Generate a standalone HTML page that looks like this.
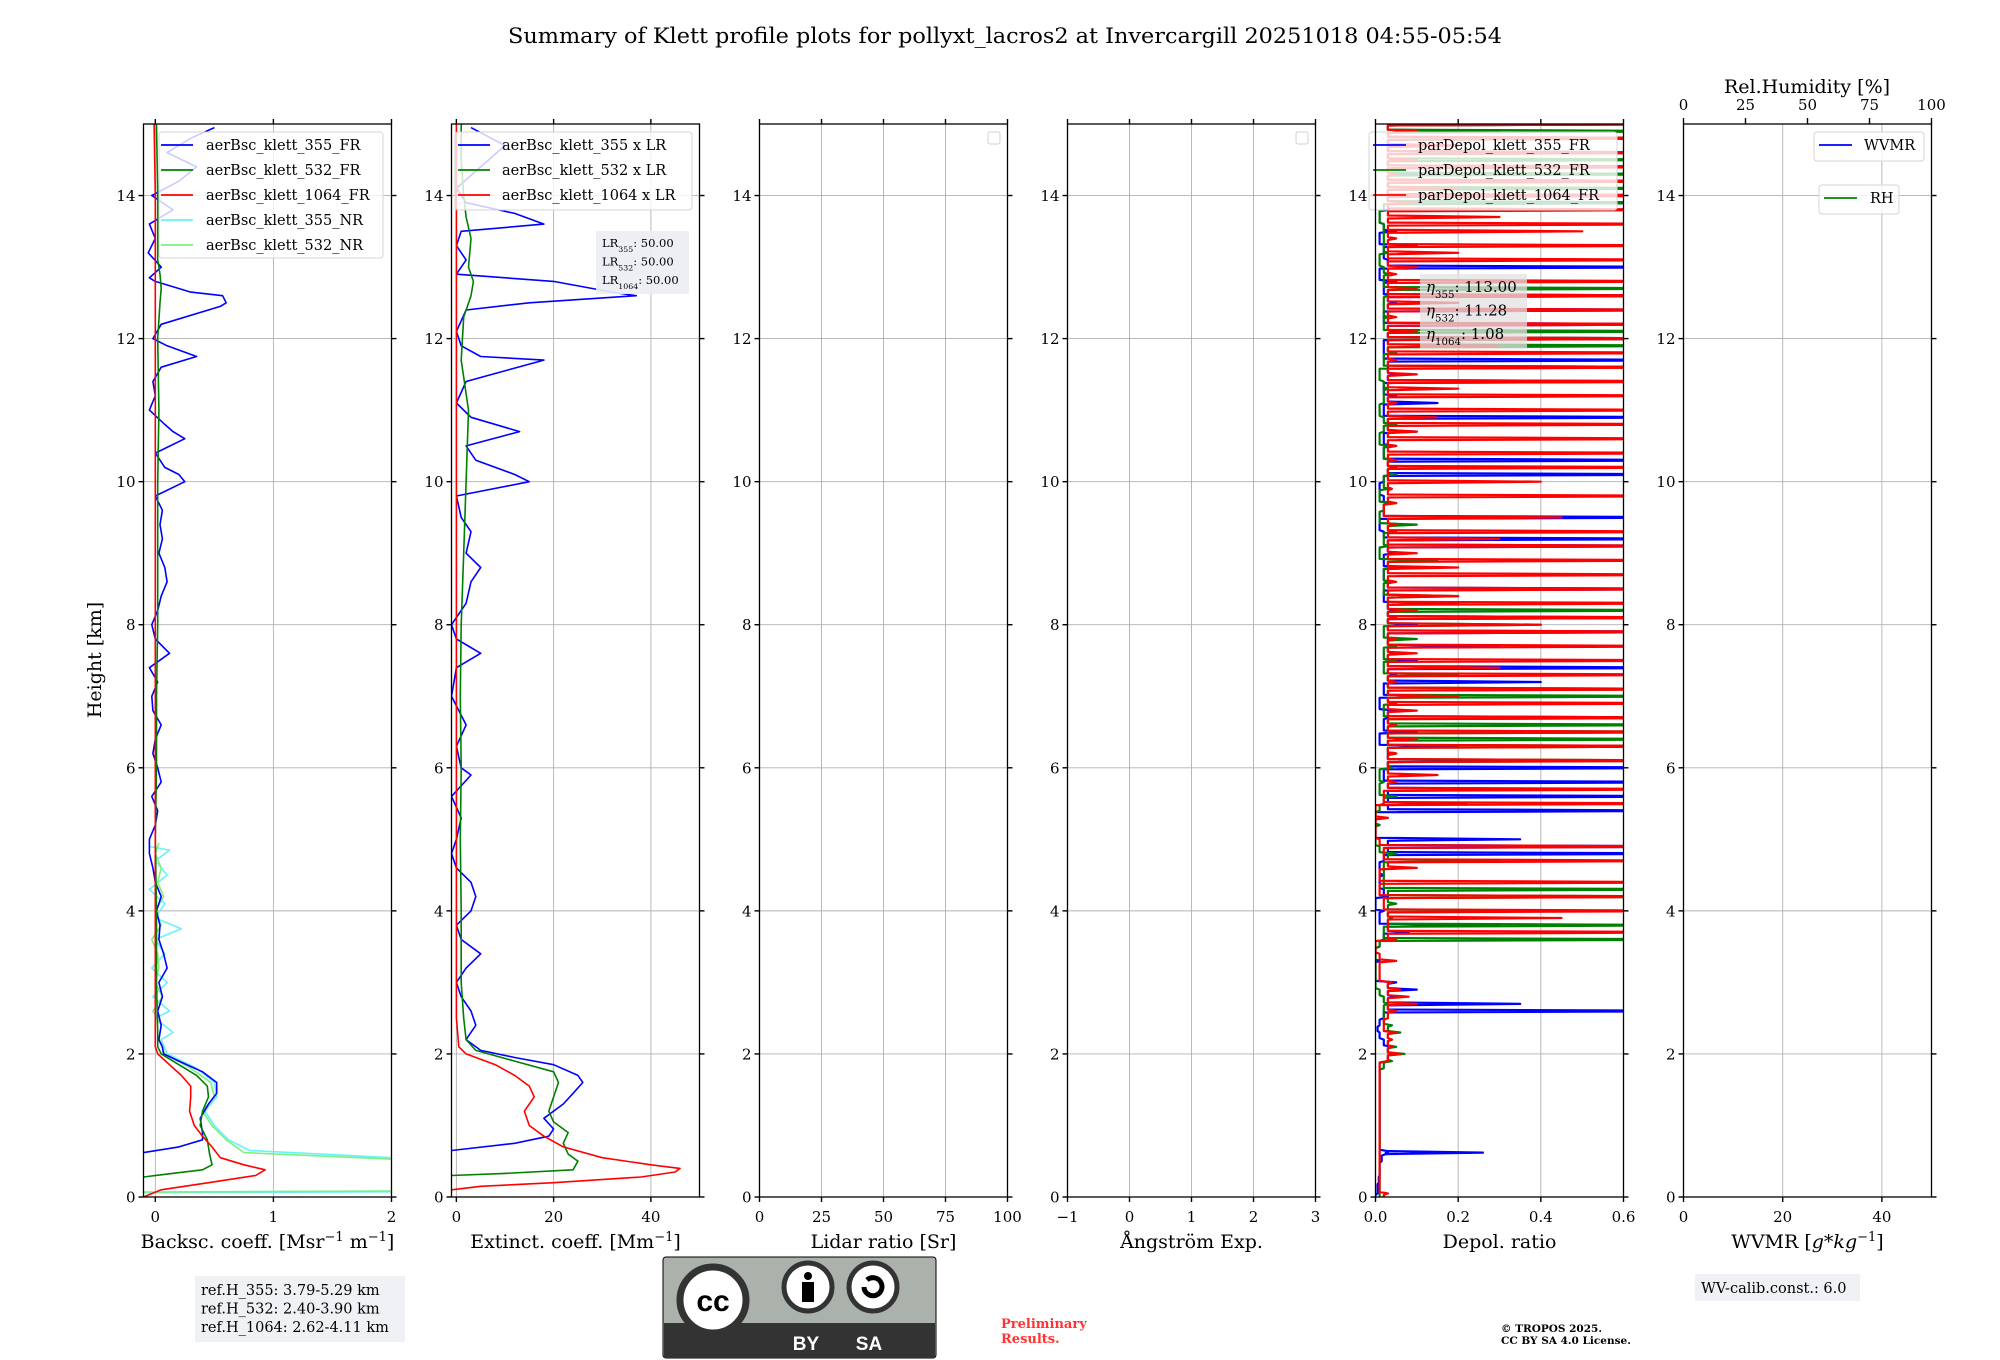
<!DOCTYPE html>
<html><head><meta charset="utf-8">
<style>
html,body{margin:0;padding:0;background:#fff;}
svg{display:block;font-family:"DejaVu Serif","Liberation Serif",serif;}
</style></head>
<body>
<div style="position:relative;width:2000px;height:1360px">
<svg id="fig" width="2000" height="1360" viewBox="0 0 2000 1360" xmlns="http://www.w3.org/2000/svg" style="position:absolute;left:0;top:0">
<rect width="2000" height="1360" fill="#fff"/>
<text x="1005" y="43" font-size="21" text-anchor="middle" textLength="994" lengthAdjust="spacingAndGlyphs">Summary of Klett profile plots for pollyxt_lacros2 at Invercargill 20251018 04:55-05:54</text>
<text transform="translate(101,660) rotate(-90)" font-size="19" text-anchor="middle">Height [km]</text>
<g id="panels"></g>
<g id="overlay"></g>
</svg>
<script>
// ---------- DATA ----------
const bsc355FR_h=[0.62,0.7,0.8,0.9,1.1,1.3,1.45,1.6,1.75,1.9,2.0,2.1,2.2,2.4,2.6,2.8,3.0,3.2,3.4,3.6,3.8,4.0,4.2,4.4,4.6,4.8,5.0,5.2,5.4,5.6,5.8,6.0,6.2,6.4,6.6,6.8,7.0,7.2,7.4,7.6,7.8,8.0,8.2,8.4,8.6,8.8,9.0,9.2,9.4,9.6,9.8,10.0,10.1,10.2,10.4,10.6,10.7,10.8,11.0,11.2,11.4,11.6,11.75,11.9,12.0,12.2,12.45,12.5,12.6,12.65,12.8,12.85,13.0,13.2,13.4,13.6,13.8,14.0,14.2,14.4,14.6,14.8,14.95];
const bsc355FR_v=[-0.1,0.2,0.4,0.4,0.38,0.45,0.52,0.52,0.4,0.2,0.07,0.06,0.03,0.05,0.02,0.06,0.03,0.1,0.07,0.03,0.04,0.01,0.05,0.0,-0.02,-0.05,-0.05,0.0,0.02,-0.03,0.05,0.02,-0.02,0.0,0.05,-0.02,-0.03,0.02,-0.05,0.12,0.0,-0.03,0.02,0.05,0.1,0.08,0.03,0.06,0.04,0.06,0.0,0.25,0.2,0.08,0.0,0.25,0.15,0.08,-0.05,0.0,-0.02,0.05,0.35,0.1,-0.02,0.05,0.55,0.6,0.57,0.3,0.0,-0.05,0.05,-0.06,0.0,-0.05,0.15,-0.03,0.2,0.35,0.1,0.3,0.5];
const bsc532FR_h=[0.28,0.32,0.38,0.45,0.6,0.8,1.0,1.2,1.4,1.55,1.7,1.85,2.0,2.1,2.3,3,4,5,6,7,8,9,10,11,12,12.5,12.7,12.9,13.1,14,15];
const bsc532FR_v=[-0.1,0.1,0.4,0.48,0.46,0.44,0.38,0.4,0.45,0.44,0.35,0.2,0.05,0.02,0.02,0.01,0.01,0.0,0.01,0.01,0.02,0.02,0.02,0.03,0.02,0.04,0.05,0.04,0.02,0.02,0.01];
const bsc1064FR_h=[0.0,0.1,0.2,0.3,0.38,0.45,0.55,0.7,0.85,1.0,1.2,1.4,1.55,1.7,1.85,2.0,2.1,2.5,4,6,8,10,12,14,15];
const bsc1064FR_v=[-0.1,0.05,0.45,0.85,0.93,0.75,0.55,0.48,0.4,0.33,0.29,0.3,0.3,0.22,0.12,0.02,0.0,0.0,0.0,0.0,0.0,0.0,0.0,0.0,-0.01];
const bsc355NR_h=[0.06,0.08,0.5,0.55,0.65,0.8,1.0,1.2,1.4,1.6,1.8,2.0,2.2,2.3,2.5,2.6,2.8,3.0,3.2,3.4,3.6,3.75,3.9,4.1,4.3,4.5,4.7,4.85,4.9];
const bsc355NR_v=[-0.1,3,3,2.0,0.8,0.62,0.5,0.42,0.52,0.5,0.35,0.1,0.05,0.15,0.0,0.12,-0.02,0.1,-0.03,0.08,0.0,0.22,0.0,0.08,-0.05,0.1,0.0,0.12,-0.05];
const bsc532NR_h=[0.07,0.09,0.48,0.53,0.62,0.8,1.0,1.2,1.4,1.6,1.8,2.0,2.2,2.4,2.6,2.8,3.0,3.2,3.4,3.6,3.8,4.0,4.2,4.4,4.6,4.8,4.95];
const bsc532NR_v=[-0.1,3,3,2.0,0.75,0.6,0.48,0.4,0.5,0.47,0.3,0.08,0.03,0.05,-0.02,0.06,0.0,0.03,0.02,-0.03,0.05,0.0,0.07,0.02,0.05,0.0,0.03];
const ext355_h=[0.65,0.75,0.85,0.95,1.1,1.3,1.45,1.6,1.7,1.85,1.95,2.05,2.2,2.4,2.6,2.8,3.0,3.2,3.4,3.6,3.8,4.0,4.2,4.4,4.6,4.8,5.0,5.3,5.6,5.9,6.0,6.3,6.6,7.0,7.4,7.6,7.8,8.0,8.3,8.6,8.8,9.0,9.3,9.5,9.8,10.0,10.1,10.3,10.5,10.7,10.9,11.1,11.4,11.7,11.75,11.9,12.1,12.4,12.5,12.6,12.65,12.8,12.9,13.1,13.3,13.5,13.6,13.75,13.9,14.1,14.4,14.7,14.95];
const ext355_v=[-1,12,19,20,18,22,24,26,25,20,12,5,2,4,3,1,0,2,5,1,0,3,4,3,0,-1,0,1,-1,3,1,0,2,-1,0,5,0,-1,2,3,5,2,3,1,0,15,12,4,2,13,3,0,2,18,5,1,0,2,15,37,32,20,0,2,0,1,18,12,2,0,5,10,3];
const ext532_h=[0.3,0.33,0.38,0.5,0.6,0.75,0.9,1.05,1.2,1.4,1.6,1.75,1.9,2.05,2.2,2.5,3,4,5,6,7,8,9,10,11,11.7,12.3,12.6,12.8,13.0,13.4,13.7,14,14.5,15];
const ext532_v=[-1,10,24,25,23,22,23,20,19,20,21,20,12,4,2,1.5,1,1,0.8,1,0.8,1,1.5,2,2.5,1,1.5,3,3.5,2.5,3,2,1.5,1,1];
const ext1064_h=[0.1,0.15,0.2,0.28,0.35,0.4,0.45,0.55,0.7,0.85,1.0,1.2,1.4,1.55,1.7,1.85,2.0,2.1,2.5,4,6,8,10,12,14,15];
const ext1064_v=[-1,5,20,38,45,46,40,30,22,18,15,14,16,15,12,8,2,0.5,0,0,0,0,0,0,0,0];
const dep_h=[0,0.05,0.1,0.2,0.3,0.5,0.6,0.62,0.64,0.7,1.0,1.5,1.8,1.9,2.0,2.1,2.2,2.3,2.35,
2.4,2.5,2.6,2.7,2.8,2.9,3.0,3.1,3.2,3.3,3.4,3.5,3.6,3.7,3.8,3.9,4.0,4.1,4.2,4.3,4.4,4.5,4.6,4.7,4.8,4.9,5.0,5.1,5.2,5.3,5.4,5.5,5.6,5.7,5.8,5.9,6.0,6.1,6.2,6.3,6.4,6.5,6.6,6.7,6.8,6.9,7.0,7.1,7.2,7.3,7.4,7.5,7.6,7.7,7.8,7.9,8.0,8.1,8.2,8.3,8.4,8.5,8.6,8.7,8.8,8.9,9.0,9.1,9.2,9.3,9.4,9.5,9.6,9.7,9.8,9.9,10.0,10.1,10.2,10.3,10.4,10.5,10.6,10.7,10.8,10.9,11.0,11.1,11.2,11.3,11.4,11.5,11.6,11.7,11.8,11.9,12.0,12.1,12.2,12.3,12.4,12.5,12.6,12.7,12.8,12.9,13.0,13.1,13.2,13.3,13.4,13.5,13.6,13.7,13.8,13.9,14.0,14.1,14.2,14.3,14.4,14.5,14.6,14.7,14.8,14.9,15.0];
const dep355_v=[0.0,0.005,0.005,0.008,0.01,0.015,0.025,0.26,0.03,0.01,0.01,0.01,0.01,0.03,0.05,0.04,0.02,0.01,0.005,
0.01,0.02,0.9,0.35,0.05,0.1,0.05,0.0,0.0,0.01,0.0,0.01,
0.02,0.08,0.3,0.01,0.02,0.0,0.03,0.02,0.01,0.02,
0.01,0.02,0.9,0.9,0.35,0.0,0.01,0.0,0.9,0.22,
0.9,0.5,0.9,0.02,0.9,0.3,0.03,0.2,0.01,0.1,
0.02,0.03,0.05,0.01,0.2,0.02,0.4,0.05,0.9,0.1,
0.05,0.3,0.03,0.9,0.1,0.9,0.05,0.2,0.02,0.9,
0.03,0.02,0.1,0.02,0.05,0.9,0.9,0.02,0.01,0.9,
0.02,0.03,0.02,0.01,0.02,0.9,0.05,0.9,0.02,0.05,
0.02,0.1,0.05,0.9,0.02,0.15,0.05,0.02,0.9,0.05,
0.03,0.9,0.02,0.02,0.9,0.05,0.9,0.02,0.9,0.05,
0.9,0.02,0.05,0.01,0.9,0.03,0.02,0.1,0.01,0.05,
0.02,0.01,0.03,0.9,0.9,0.5,0.9,0.1,0.9,0.05,
0.9,0.2,0.9,0.3,0.9];
const dep532_v=[0.01,0.01,0.01,0.01,0.01,0.01,0.01,0.01,0.01,0.01,0.01,0.01,0.02,0.04,0.07,0.05,0.04,0.06,0.03,
0.04,0.02,0.02,0.03,0.02,0.01,0.0,0.0,0.0,0.0,0.0,0.01,
0.9,0.02,0.9,0.04,0.55,0.05,0.9,0.9,0.02,0.02,
0.02,0.3,0.05,0.01,0.0,0.0,0.01,0.0,0.01,0.02,
0.05,0.01,0.02,0.01,0.04,0.9,0.05,0.9,0.9,0.9,
0.9,0.9,0.02,0.05,0.9,0.9,0.05,0.2,0.02,0.05,
0.02,0.05,0.1,0.02,0.4,0.05,0.9,0.03,0.2,0.02,
0.04,0.02,0.05,0.15,0.01,0.03,0.02,0.05,0.1,0.01,
0.02,0.05,0.01,0.03,0.02,0.05,0.3,0.04,0.02,0.03,
0.01,0.02,0.05,0.02,0.01,0.02,0.02,0.03,0.02,0.01,
0.9,0.02,0.05,0.9,0.9,0.9,0.02,0.03,0.02,0.02,
0.03,0.9,0.02,0.03,0.02,0.01,0.03,0.02,0.02,0.02,
0.02,0.01,0.02,0.9,0.9,0.9,0.9,0.9,0.9,0.9,
0.9,0.05,0.9,0.9,0.9];
const dep1064_v=[0.02,0.03,0.01,0.01,0.01,0.01,0.01,0.01,0.01,0.01,0.01,0.01,0.01,0.03,0.06,0.04,0.04,0.05,0.02,
0.02,0.03,0.05,0.1,0.08,0.06,0.04,0.01,0.01,0.05,0.01,0.0,
0.05,0.9,0.03,0.45,0.9,0.02,0.9,0.01,0.9,0.01,
0.1,0.9,0.02,0.9,0.01,0.0,0.0,0.03,0.0,0.9,
0.02,0.9,0.05,0.15,0.03,0.9,0.05,0.9,0.1,0.9,
0.05,0.9,0.1,0.9,0.2,0.9,0.05,0.9,0.3,0.9,
0.1,0.9,0.05,0.9,0.4,0.9,0.1,0.9,0.2,0.9,
0.05,0.9,0.2,0.9,0.1,0.9,0.3,0.9,0.05,0.45,
0.02,0.05,0.9,0.04,0.4,0.03,0.9,0.05,0.9,0.05,
0.9,0.1,0.9,0.15,0.9,0.05,0.9,0.2,0.9,0.1,
0.9,0.05,0.9,0.3,0.9,0.1,0.9,0.05,0.9,0.2,
0.9,0.1,0.9,0.05,0.1,0.9,0.2,0.9,0.05,0.5,
0.9,0.3,0.9,0.1,0.9,0.2,0.9,0.05,0.9,0.1,
0.9,0.2,0.9,0.1,0.9];
const heightTicks=[0,2,4,6,8,10,12,14];
const p1Ticks=[0,1,2], p2Ticks=[0,20,40], p3Ticks=[0,25,50,75,100], p4Ticks=[-1,0,1,2,3], p5Ticks=[0,0.2,0.4,0.6], p6Ticks=[0,20,40], rhTicks=[0,25,50,75,100];
const p5TickLabels=["0.0","0.2","0.4","0.6"];
const p4TickLabels=["\u22121","0","1","2","3"];

// ---------- LAYOUT ----------
const NS="http://www.w3.org/2000/svg";
const YB=1197, YTOP=124, HMAX=15;
const PW=248;
const lefts=[143.5,451.5,759.5,1067.5,1375.5,1683.5];
const xr=[[-0.1,2],[-1,50],[0,100],[-1,3],[0,0.6],[0,50]];
function yS(h){return YB-(h/HMAX)*(YB-YTOP);}
function xS(p,v){const r=xr[p];return lefts[p]+(v-r[0])/(r[1]-r[0])*PW;}
function mk(tag,attrs,parent){const e=document.createElementNS(NS,tag);for(const k in attrs)e.setAttribute(k,attrs[k]);parent.appendChild(e);return e;}
const root=document.getElementById('panels');
const over=document.getElementById('overlay');

const xlabels=[
 ['Backsc. coeff. [Msr','\u22121',' m','\u22121',']'],
 ['Extinct. coeff. [Mm','\u22121',']'],
 ['Lidar ratio [Sr]'],
 ['\u00c5ngstr\u00f6m Exp.'],
 ['Depol. ratio'],
 ['WVMR [','g*kg','\u22121',']']
];
const tickSets=[p1Ticks,p2Ticks,p3Ticks,p4Ticks,p5Ticks,p6Ticks];
const names=['backscatter','extinction','lidar-ratio','angstrom','depol','wvmr'];

for(let p=0;p<6;p++){
  const L=lefts[p], R=L+PW;
  const g=mk('g',{},root);
  
  
  const cp=mk('clipPath',{id:'clip'+p},g);
  mk('rect',{x:L,y:YTOP,width:PW,height:YB-YTOP},cp);
  const grid=mk('g',{stroke:'#b0b0b0','stroke-width':0.9},g);
  
  
  for(const h of heightTicks){mk('line',{x1:L,x2:R,y1:yS(h),y2:yS(h)},grid);}
  for(const t of tickSets[p]){const x=xS(p,t);mk('line',{x1:x,x2:x,y1:YTOP,y2:YB},grid);}
  const yt=mk('g',{stroke:'#000','stroke-width':1.4},g);
  for(const h of heightTicks){const y=yS(h);mk('line',{x1:L-5,x2:L,y1:y,y2:y},yt);mk('line',{x1:R,x2:R+5,y1:y,y2:y},yt);
    const t=mk('text',{x:L-8,y:y+5.5,'font-size':15,'text-anchor':'end'},g);t.textContent=String(h);
    
    }
  tickSets[p].forEach((tv,i)=>{const x=xS(p,tv);
    mk('line',{x1:x,x2:x,y1:YB,y2:YB+5,stroke:'#000','stroke-width':1.4},g);
    if(p<5) mk('line',{x1:x,x2:x,y1:YTOP-5,y2:YTOP,stroke:'#000','stroke-width':1.4},g);
    let lab=String(tv); if(p===4) lab=p5TickLabels[i]; if(p===3) lab=p4TickLabels[i];
    const t=mk('text',{x:x,y:YB+25,'font-size':15,'text-anchor':'middle'},g);t.textContent=lab;
    
    });
  const xl=mk('text',{x:L+PW/2,y:1248,'font-size':19,'text-anchor':'middle'},g);
  
  
  xlabels[p].forEach(s=>{const ts=mk('tspan',{},xl);
    if(s==='\u22121'){ts.setAttribute('baseline-shift','super');ts.setAttribute('font-size','13');}
    if(s==='g*kg'){ts.setAttribute('font-style','italic');}
    ts.textContent=s;});
}
function spines(){for(let p=0;p<6;p++){const L=lefts[p];
  const s=mk('rect',{x:L,y:YTOP,width:PW,height:YB-YTOP,fill:'none',stroke:'#000','stroke-width':1.3},over);
  
  }}

function series(p,hs,vs,color,name,w,spike){
  const n=Math.min(hs.length,vs.length);const pts=[];
  for(let i=0;i<n;i++){
    if(spike && i>0){
      const base=Math.min(vs[i-1],vs[i],0.03);
      pts.push(xS(p,base).toFixed(1)+','+(yS(hs[i-1])-1.5).toFixed(1));
      pts.push(xS(p,base).toFixed(1)+','+(yS(hs[i])+1.5).toFixed(1));
    }
    pts.push(xS(p,vs[i]).toFixed(1)+','+yS(hs[i]).toFixed(1));
  }
  const pl=mk('polyline',{points:pts.join(' '),fill:'none',stroke:color,'stroke-width':w||1.6,'clip-path':'url(#clip'+p+')','stroke-linejoin':'round'},root);
  
  
}
series(0,bsc355NR_h,bsc355NR_v,'#66f2ff','bsc-355-nr-line');
series(0,bsc532NR_h,bsc532NR_v,'#7ff07f','bsc-532-nr-line');
series(0,bsc355FR_h,bsc355FR_v,'#0000ff','bsc-355-fr-line');
series(0,bsc532FR_h,bsc532FR_v,'#008000','bsc-532-fr-line');
series(0,bsc1064FR_h,bsc1064FR_v,'#ff0000','bsc-1064-fr-line');
series(1,ext355_h,ext355_v,'#0000ff','ext-355-line');
series(1,ext532_h,ext532_v,'#008000','ext-532-line');
series(1,ext1064_h,ext1064_v,'#ff0000','ext-1064-line');
series(4,dep_h,dep355_v,'#0000ff','depol-355-line',2.2,true);
series(4,dep_h,dep532_v,'#008000','depol-532-line',2.2,true);
series(4,dep_h,dep1064_v,'#ff0000','depol-1064-line',2.2,true);

function legend(x,y,w,h,entries,name,tx,lx1,lx2,step,fs){
  const g=mk('g',{},over);
  
  
  mk('rect',{x:x,y:y,width:w,height:h,rx:3,fill:'rgba(255,255,255,0.8)',stroke:'#d4d4d4','stroke-width':1},g);
  entries.forEach((e,i)=>{const yy=y+13+i*step;
    mk('line',{x1:lx1,x2:lx2,y1:yy,y2:yy,stroke:e[1],'stroke-width':1.8},g);
    const t=mk('text',{x:tx,y:yy+5,'font-size':fs||14.5},g);t.textContent=e[0];});
}
legend(159,132,224,126,[['aerBsc_klett_355_FR','#0000ff'],['aerBsc_klett_532_FR','#008000'],['aerBsc_klett_1064_FR','#ff0000'],['aerBsc_klett_355_NR','#66f2ff'],['aerBsc_klett_532_NR','#7ff07f']],'backscatter-legend',206,161,193,25);
legend(455,132,237,78,[['aerBsc_klett_355 x LR','#0000ff'],['aerBsc_klett_532 x LR','#008000'],['aerBsc_klett_1064 x LR','#ff0000']],'extinction-legend',502,458,490,25);
legend(1369,132,248,78,[['parDepol_klett_355_FR','#0000ff'],['parDepol_klett_532_FR','#008000'],['parDepol_klett_1064_FR','#ff0000']],'depol-legend',1418,1373,1406,25);
legend(1814,132,110,29,[['WVMR','#0000ff']],'wvmr-legend',1864,1819,1852,25);
legend(1819,185,80,29,[['RH','#008000']],'rh-legend',1870,1824,1857,25);
spines();
function emptyLeg(x,name){const r=mk('rect',{x:x,y:132,width:12,height:12,rx:2,fill:'#fff',stroke:'#d0d0d0'},over);
  
  }
emptyLeg(988,'lidar-ratio-empty-legend');emptyLeg(1296,'angstrom-empty-legend');

function infoBox(x,y,w,h,lines,fs,name,fill,lh,dy){
  const g=mk('g',{},over);
  
  
  mk('rect',{x:x,y:y,width:w,height:h,fill:fill},g);
  lines.forEach((l,i)=>{const t=mk('text',{x:x+6,y:y+dy+i*lh,'font-size':fs},g);
    l.forEach(s=>{const ts=mk('tspan',{},t);if(s[1]){ts.setAttribute('baseline-shift','sub');ts.setAttribute('font-size',fs*0.68);}
      if(s[2])ts.setAttribute('font-style','italic');ts.textContent=s[0];});});
}
infoBox(596,231,93,63,[[['LR'],['355',1],[': 50.00']],[['LR'],['532',1],[': 50.00']],[['LR'],['1064',1],[': 50.00']]],11.5,'lidar-ratio-info-box','rgba(236,238,244,0.92)',18.5,16);
infoBox(1420,274,107,75,[[['\u03b7',0,1],['355',1],[': 113.00']],[['\u03b7',0,1],['532',1],[': 11.28']],[['\u03b7',0,1],['1064',1],[': 1.08']]],15,'eta-info-box','rgba(225,225,225,0.75)',23.5,18);
infoBox(195,1276,210,66,[[['ref.H_355: 3.79-5.29 km']],[['ref.H_532: 2.40-3.90 km']],[['ref.H_1064: 2.62-4.11 km']]],14.5,'reference-height-box','#f0f1f5',18.5,19);
infoBox(1695,1274,165,27,[[['WV-calib.const.: 6.0']]],14.5,'wv-calib-box','#f0f1f5',18,19);

(function(){const L=lefts[5];const g=mk('g',{},over);
  
  
  rhTicks.forEach(v=>{const x=L+v/100*PW;mk('line',{x1:x,x2:x,y1:YTOP-6,y2:YTOP,stroke:'#000','stroke-width':1.4},g);
    const t=mk('text',{x:x,y:110,'font-size':15,'text-anchor':'middle'},g);t.textContent=String(v);});
  const t=mk('text',{x:1807,y:93,'font-size':19,'text-anchor':'middle'},g);t.textContent='Rel.Humidity [%]';
})();
</script>
<svg width="2000" height="1360" xmlns="http://www.w3.org/2000/svg" style="position:absolute;left:0;top:0;font-family:'DejaVu Serif','Liberation Serif',serif">
 <g>
  <rect x="663" y="1257" width="273" height="101" rx="3" fill="#aab2ab" stroke="#000" stroke-width="1"/>
  <rect x="664" y="1323" width="271" height="35" fill="#333"/>
  <circle cx="713" cy="1300" r="36" fill="#aab2ab"/>
  <circle cx="713" cy="1300" r="33" fill="#fff" stroke="#333" stroke-width="7"/>
  <text x="713" y="1311" font-family="'Liberation Sans',sans-serif" font-weight="bold" font-size="30" text-anchor="middle" fill="#000">cc</text>
  <circle cx="808" cy="1287" r="24" fill="#fff" stroke="#333" stroke-width="5"/>
  <circle cx="808" cy="1276" r="4" fill="#000"/>
  <rect x="802" y="1282" width="12" height="20" fill="#000"/>
  <circle cx="873" cy="1287" r="24" fill="#fff" stroke="#333" stroke-width="5"/>
  <path d="M864 1287 a9 9 0 1 0 3 -7" fill="none" stroke="#000" stroke-width="5"/>
  <text x="806" y="1350" font-family="'Liberation Sans',sans-serif" font-weight="bold" font-size="19" text-anchor="middle" fill="#fff">BY</text>
  <text x="869" y="1350" font-family="'Liberation Sans',sans-serif" font-weight="bold" font-size="19" text-anchor="middle" fill="#fff">SA</text>
 </g>
 <text x="1001" y="1328" font-size="13" font-weight="bold" fill="#ff3333">Preliminary</text>
 <text x="1001" y="1343" font-size="13" font-weight="bold" fill="#ff3333">Results.</text>
 <text x="1501" y="1332" font-size="10.5" font-weight="bold">© TROPOS 2025.</text>
 <text x="1501" y="1344" font-size="10.5" font-weight="bold">CC BY SA 4.0 License.</text>
</svg>
</div>
</body></html>
